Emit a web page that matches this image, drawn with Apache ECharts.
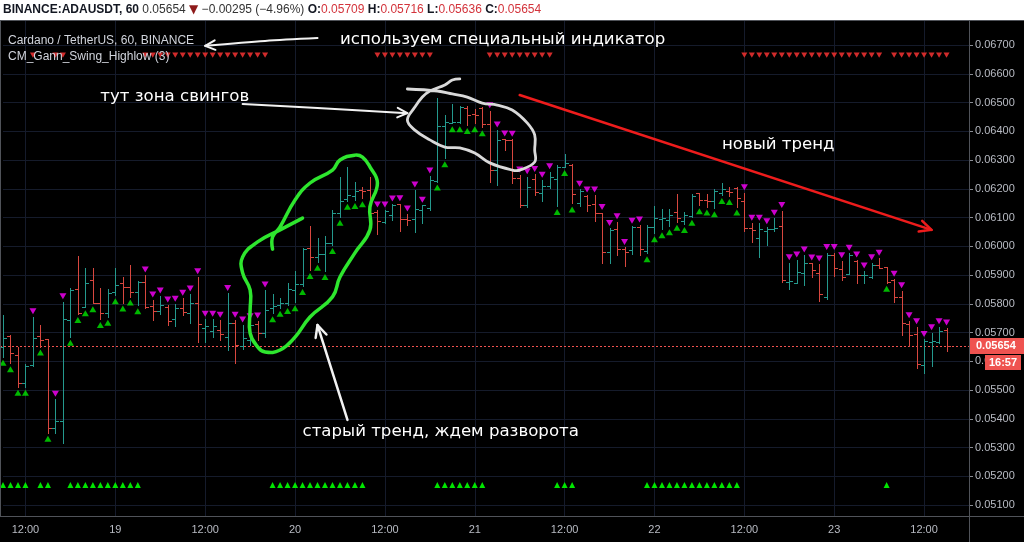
<!DOCTYPE html>
<html><head><meta charset="utf-8">
<script src="https://cdn.jsdelivr.net/npm/echarts@6/dist/echarts.min.js"></script>
<style>html,body{margin:0;padding:0;background:#000;}#c{width:1024px;height:542px;}</style>
</head><body><div id="c"></div>
<script>
// ---------- data ----------
const startDay = 18, startHour = 9, barCount = 130; // hourly bars from 18th 09:00
const categories = [];
for (let k = 0; k < barCount; k++) {
  const h = startHour + k;
  const d = startDay + Math.floor(h / 24);
  const hh = h % 24;
  categories.push(d + ' ' + (hh < 10 ? '0' : '') + hh + ':00');
}
const opens = [0.05651,0.05689,0.05622,0.05523,0.05587,0.05689,0.05676,0.05367,0.05393,0.05743,
0.05850,0.05790,0.05883,0.05802,0.05767,0.05842,0.05871,0.05859,0.05842,0.05877,
0.05792,0.05776,0.05790,0.05746,0.05784,0.05769,0.05804,0.05717,0.05705,0.05709,
0.05685,0.05732,0.05653,0.05674,0.05730,0.05698,0.05784,0.05796,0.05801,0.05848,
0.05870,0.05993,0.05964,0.05972,0.06012,0.06117,0.06163,0.06175,0.06195,0.06195,
0.06120,0.06085,0.06109,0.06147,0.06094,0.06094,0.06126,0.06132,0.06228,0.06418,
0.06429,0.06433,0.06480,0.06460,0.06482,0.06425,0.06265,0.06372,0.06370,0.06237,
0.06143,0.06234,0.06184,0.06210,0.06233,0.06277,0.06283,0.06150,0.06175,0.06147,
0.06115,0.05979,0.06059,0.05989,0.05987,0.06066,0.05983,0.06066,0.06094,0.06091,
0.06120,0.06089,0.06105,0.06184,0.06161,0.06158,0.06184,0.06193,0.06202,0.06158,
0.06062,0.06028,0.06053,0.06059,0.06070,0.05876,0.05873,0.05906,0.05941,0.05906,
0.05822,0.05970,0.05920,0.05904,0.05950,0.05899,0.05892,0.05935,0.05927,0.05883,
0.05825,0.05730,0.05694,0.05587,0.05667,0.05668,0.05709];
const highs = [0.05761,0.05690,0.05649,0.05590,0.05755,0.05726,0.05677,0.05468,0.05807,0.05854,
0.05967,0.05923,0.05923,0.05854,0.05850,0.05923,0.05892,0.05935,0.05880,0.05900,
0.05813,0.05827,0.05796,0.05798,0.05819,0.05834,0.05894,0.05746,0.05746,0.05743,
0.05836,0.05743,0.05726,0.05737,0.05740,0.05848,0.05833,0.05819,0.05871,0.05914,
0.05995,0.06071,0.06030,0.06037,0.06126,0.06240,0.06277,0.06225,0.06205,0.06240,
0.06126,0.06126,0.06147,0.06148,0.06112,0.06196,0.06143,0.06244,0.06515,0.06457,
0.06495,0.06488,0.06488,0.06476,0.06485,0.06471,0.06404,0.06373,0.06372,0.06248,
0.06242,0.06250,0.06230,0.06259,0.06283,0.06321,0.06286,0.06198,0.06178,0.06178,
0.06117,0.06062,0.06085,0.05996,0.06070,0.06074,0.06074,0.06140,0.06129,0.06129,
0.06182,0.06120,0.06181,0.06186,0.06181,0.06198,0.06219,0.06205,0.06205,0.06186,
0.06080,0.06080,0.06068,0.06097,0.06124,0.05943,0.05952,0.05970,0.05942,0.05938,
0.05978,0.05978,0.05950,0.05976,0.05952,0.05914,0.05943,0.05958,0.05928,0.05885,
0.05845,0.05741,0.05720,0.05676,0.05699,0.05720,0.05716];
const lows = [0.05616,0.05593,0.05511,0.05511,0.05585,0.05651,0.05351,0.05351,0.05315,0.05685,
0.05764,0.05788,0.05802,0.05747,0.05755,0.05830,0.05804,0.05825,0.05795,0.05784,
0.05743,0.05764,0.05726,0.05723,0.05761,0.05734,0.05668,0.05668,0.05685,0.05674,
0.05639,0.05593,0.05642,0.05657,0.05674,0.05685,0.05767,0.05786,0.05796,0.05805,
0.05862,0.05917,0.05946,0.05914,0.06004,0.06103,0.06158,0.06161,0.06167,0.06063,
0.06043,0.06080,0.06091,0.06053,0.06074,0.06051,0.06082,0.06126,0.06225,0.06306,
0.06428,0.06428,0.06422,0.06428,0.06414,0.06225,0.06213,0.06335,0.06220,0.06138,
0.06138,0.06178,0.06158,0.06202,0.06140,0.06276,0.06149,0.06140,0.06124,0.06089,
0.05943,0.05943,0.05970,0.05931,0.05973,0.05970,0.05976,0.06045,0.06059,0.06070,
0.06085,0.06077,0.06103,0.06143,0.06138,0.06132,0.06178,0.06175,0.06138,0.06054,
0.06016,0.05964,0.06004,0.06054,0.05877,0.05850,0.05871,0.05865,0.05892,0.05811,
0.05815,0.05897,0.05883,0.05903,0.05871,0.05873,0.05889,0.05923,0.05873,0.05807,
0.05691,0.05653,0.05576,0.05558,0.05583,0.05665,0.05636];
const closes = [0.05682,0.05628,0.05523,0.05583,0.05682,0.05674,0.05367,0.05393,0.05746,0.05848,
0.05767,0.05871,0.05804,0.05767,0.05838,0.05865,0.05859,0.05842,0.05877,0.05790,
0.05776,0.05796,0.05740,0.05784,0.05772,0.05802,0.05729,0.05723,0.05723,0.05694,
0.05734,0.05657,0.05682,0.05726,0.05698,0.05778,0.05792,0.05803,0.05850,0.05868,
0.05990,0.05964,0.05972,0.06012,0.06115,0.06157,0.06178,0.06193,0.06193,0.06115,
0.06089,0.06124,0.06143,0.06094,0.06093,0.06129,0.06143,0.06230,0.06418,0.06432,
0.06431,0.06483,0.06457,0.06458,0.06425,0.06265,0.06370,0.06368,0.06237,0.06143,
0.06205,0.06188,0.06211,0.06242,0.06277,0.06291,0.06182,0.06193,0.06143,0.06115,
0.05979,0.06057,0.05989,0.05981,0.06066,0.05989,0.06067,0.06097,0.06098,0.06109,
0.06097,0.06109,0.06175,0.06161,0.06158,0.06193,0.06198,0.06190,0.06167,0.06062,
0.06057,0.06059,0.06059,0.06062,0.05883,0.05880,0.05911,0.05943,0.05917,0.05833,
0.05970,0.05924,0.05894,0.05970,0.05900,0.05901,0.05935,0.05925,0.05877,0.05825,
0.05732,0.05691,0.05590,0.05670,0.05672,0.05705,0.05654];
// Gann swing signals (bar indices)
const upSignals = [0,1,2,3,5,6,9,10,11,12,13,14,15,16,17,18,
  36,37,38,39,40,41,42,43,44,45,46,47,48,58,59,60,61,62,63,64,74,75,76,
  86,87,88,89,90,91,92,93,94,95,96,97,98,118];
const downSignals = [4,7,8,19,20,21,22,23,24,25,26,27,28,29,30,31,32,33,34,35,
  50,51,52,53,54,55,56,57,65,66,67,68,69,70,71,72,73,77,78,79,80,81,82,83,84,85,
  99,100,101,102,103,104,105,106,107,108,109,110,111,112,113,114,115,116,117,
  119,120,121,122,123,124,125,126];
const topRowMarks = [4,7,8,19,20,21,22,23,24,25,26,27,28,29,30,31,32,33,34,35,
  50,51,52,53,54,55,56,57,65,66,67,68,69,70,71,72,73,
  99,100,101,102,103,104,105,106,107,108,109,110,111,112,113,114,115,116,117,
  119,120,121,122,123,124,125,126];
const bottomRowMarks = upSignals;
const lastPrice = 0.05654;
const countdown = '16:57';
const headerParts = {symbol:'BINANCE:ADAUSDT, 60', last:'0.05654', change:'\u22120.00295 (\u22124.96%)', o:'0.05709', h:'0.05716', l:'0.05636', c:'0.05654'};
// hand-drawn annotations in data coordinates [bar index, price]
const greenLoop = [[40.06,0.06098],[36.59,0.06057],[33.92,0.06015],[32.32,0.05963],[32.05,0.05907],[32.59,0.05848],[32.72,0.05778],[32.99,0.05698],[33.65,0.05650],[35.26,0.05632],[36.99,0.05639],[39.26,0.05684],[41.40,0.05754],[43.67,0.05824],[45.41,0.05893],[47.28,0.05977],[48.61,0.06057],[49.41,0.06137],[49.81,0.06220],[49.41,0.06276],[48.08,0.06310],[46.74,0.06317],[45.41,0.06300],[43.67,0.06265],[41.40,0.06220],[39.26,0.06161],[36.99,0.06067],[36.06,0.06032],[35.79,0.05990]];
const whiteLoop = [[53.95,0.06547],[57.69,0.06540],[60.10,0.06530],[61.97,0.06519],[64.10,0.06498],[66.37,0.06491],[68.11,0.06474],[69.98,0.06429],[71.05,0.06387],[71.31,0.06335],[70.78,0.06293],[69.44,0.06265],[67.71,0.06265],[65.44,0.06290],[63.30,0.06324],[61.30,0.06342],[58.76,0.06345],[56.62,0.06370],[55.02,0.06404],[54.35,0.06439],[54.62,0.06484],[55.69,0.06519],[57.43,0.06540],[58.76,0.06561],[60.10,0.06578],[60.63,0.06582]];
const arrowLegend = [[42.33,0.06724],[34.99,0.06714],[27.24,0.06697]];
const arrowSwing = [[31.92,0.06495],[42.33,0.06481],[53.69,0.06463]];
const arrowOldTrend = [[46.34,0.05396],[42.07,0.05726]];
const arrowNewTrend = [[69.04,0.06526],[123.53,0.06057]];
const notes = [
  {text:'используем специальный индикатор', at:[44.74,0.06717]},
  {text:'тут зона свингов', at:[12.69,0.06519]},
  {text:'новый тренд', at:[95.75,0.06352]},
  {text:'старый тренд, ждем разворота', at:[39.66,0.05354]}
];
// ---------- style ----------
const Y_MIN = 0.0506174, Y_MAX = 0.0678696;
const UP = '#24998d', DOWN = '#d8473f';
const GRIDC = '#151b2b', AXT = '#b8bbc3';
const isMark = v => v.endsWith(' 00:00') || v.endsWith(' 12:00');

const ohlc = opens.map((o, i) => [i, o, highs[i], lows[i], closes[i]]);

function renderBar(params, api) {
  const i = api.value(0);
  const o = api.value(1), h = api.value(2), l = api.value(3), c = api.value(4);
  const ph = api.coord([i, h]), pl = api.coord([i, l]), po = api.coord([i, o]), pc = api.coord([i, c]);
  const x = Math.round(ph[0]) + 0.5;
  const col = c >= o ? UP : DOWN;
  const st = {stroke: col, lineWidth: 1};
  const yo = Math.round(po[1]) + 0.5, yc = Math.round(pc[1]) + 0.5;
  const y1 = Math.round(ph[1]), y2 = Math.round(pl[1]) + 1;
  return {type: 'group', children: [
    {type: 'line', shape: {x1: x, y1: y1, x2: x, y2: y2}, style: st},
    {type: 'line', shape: {x1: x - 3.5, y1: yo, x2: x, y2: yo}, style: st},
    {type: 'line', shape: {x1: x, y1: yc, x2: x + 3.5, y2: yc}, style: st}
  ]};
}

function renderPriceLine(params, api) {
  const cs = params.coordSys;
  const y = Math.round(api.coord([0, api.value(1)])[1]) + 0.5;
  return {type: 'line', shape: {x1: 0, y1: y, x2: cs.x + cs.width, y2: y},
    style: {stroke: '#ef5350', lineWidth: 1, lineDash: [2, 2]}};
}

function arrowHead(tip, from, len, ang) {
  const a = Math.atan2(from[1] - tip[1], from[0] - tip[0]);
  return [[tip[0] + len * Math.cos(a + ang), tip[1] + len * Math.sin(a + ang)], tip,
          [tip[0] + len * Math.cos(a - ang), tip[1] + len * Math.sin(a - ang)]];
}

function renderNotes(params, api) {
  const kids = [];
  const P = pts => pts.map(p => api.coord(p));
  const stroke = (pts, color, w, smooth) => kids.push({type: 'polyline', shape: {points: pts, smooth: smooth || 0},
    style: {stroke: color, lineWidth: w, fill: null, lineCap: 'round', lineJoin: 'round'}});
  const arrow = (path, color, w, hl) => {
    const pts = P(path);
    stroke(pts, color, w, 0.3);
    stroke(arrowHead(pts[pts.length - 1], pts[pts.length - 2], hl, 0.45), color, w, 0);
  };
  stroke(P(greenLoop), '#2ee62e', 3.5, 0.45);
  stroke(P(whiteLoop), '#d9d9d9', 2.8, 0.4);
  arrow(arrowLegend, '#f2f2f2', 2, 11);
  arrow(arrowSwing, '#f2f2f2', 2, 11);
  arrow(arrowOldTrend, '#f2f2f2', 2.5, 13);
  arrow(arrowNewTrend, '#ee1c1c', 2.5, 13);
  notes.forEach(n => {
    const p = api.coord(n.at);
    kids.push({type: 'text', x: p[0], y: p[1], style: {text: n.text, fill: '#ffffff',
      font: '16.6px "DejaVu Sans"', align: 'left', verticalAlign: 'middle'}});
  });
  return {type: 'group', children: kids};
}

function rowMark(top) {
  return function (params, api) {
    const x = api.coord([api.value(0), api.value(1)])[0];
    const cs = params.coordSys;
    if (top) {
      const y = cs.y + 35;
      return {type: 'polygon', shape: {points: [[x - 3, y - 2.4], [x + 3, y - 2.4], [x, y + 2.8]]}, style: {fill: '#d12b2b'}};
    }
    const y = cs.y + cs.height - 31;
    return {type: 'polygon', shape: {points: [[x - 3, y + 3], [x + 3, y + 3], [x, y - 3]]}, style: {fill: '#00e600'}};
  };
}

const chart = echarts.init(document.getElementById('c'), null, {width: 1024, height: 542});
chart.setOption({
  animation: false,
  backgroundColor: '#000000',
  grid: {left: 3, right: 55, top: 20, bottom: 26, containLabel: false},
  xAxis: {
    type: 'category', data: categories, boundaryGap: false,
    axisLine: {show: false}, axisTick: {show: false},
    axisLabel: {interval: (i, v) => isMark(v), formatter: v => v.endsWith(' 00:00') ? v.split(' ')[0] : '12:00',
      color: AXT, fontSize: 11, margin: 8, fontFamily: 'Liberation Sans'},
    splitLine: {show: true, interval: (i, v) => isMark(v), lineStyle: {color: GRIDC, width: 1}}
  },
  yAxis: {
    type: 'value', position: 'right', min: Y_MIN, max: Y_MAX, splitNumber: 17,
    axisLine: {show: false},
    axisTick: {show: true, length: 4, lineStyle: {color: '#8a8d94'}},
    axisLabel: {color: AXT, fontSize: 11, margin: 6, fontFamily: 'Liberation Sans',
      formatter: v => v.toFixed(5), showMinLabel: false, showMaxLabel: false},
    splitLine: {show: true, lineStyle: {color: GRIDC, width: 1}}
  },
  series: [
    {type: 'custom', name: 'priceLine', data: [[0, lastPrice]], renderItem: renderPriceLine, encode: {x: 0, y: 1}, clip: false, silent: true, z: 1},
    {type: 'custom', name: 'ohlc', data: ohlc, renderItem: renderBar, encode: {x: 0, y: [1, 2, 3, 4]}, clip: false, silent: true, z: 2},
    {type: 'scatter', name: 'up', data: upSignals.map(i => [i, lows[i]]), symbol: 'triangle', symbolSize: [7, 6],
      symbolOffset: [0, 6], itemStyle: {color: '#00e600'}, silent: true, z: 3},
    {type: 'scatter', name: 'down', data: downSignals.map(i => [i, highs[i]]), symbol: 'path://M0,0L10,0L5,9Z', symbolSize: [7, 6],
      symbolOffset: [0, -5.5], itemStyle: {color: '#ff00ff'}, silent: true, z: 3},
    {type: 'custom', name: 'topRow', data: topRowMarks.map(i => [i, highs[i]]), renderItem: rowMark(true), encode: {x: 0, y: 1}, clip: false, silent: true, z: 3},
    {type: 'custom', name: 'bottomRow', data: bottomRowMarks.map(i => [i, lows[i]]), renderItem: rowMark(false), encode: {x: 0, y: 1}, clip: false, silent: true, z: 3},
    {type: 'custom', name: 'notes', data: [[0, lastPrice]], renderItem: renderNotes, encode: {x: 0, y: 1}, clip: false, silent: true, z: 5}
  ]
});

const py = chart.convertToPixel({yAxisIndex: 0}, lastPrice);
const hp = headerParts;
chart.setOption({graphic: [
  {type: 'rect', shape: {x: 0, y: 0, width: 1024, height: 20}, style: {fill: '#ffffff'}, z: 100},
  {type: 'text', x: 3, y: 10, z: 101, style: {
    text: '{b|' + hp.symbol + '} {g|' + hp.last + '} {d|\u25BC} {g|' + hp.change + '} {b|O:}{r|' + hp.o + '} {b|H:}{r|' + hp.h + '} {b|L:}{r|' + hp.l + '} {b|C:}{r|' + hp.c + '}',
    verticalAlign: 'middle',
    rich: {
      b: {fill: '#131722', font: 'bold 12px "Liberation Sans"'},
      g: {fill: '#333333', font: '12px "Liberation Sans"'},
      d: {fill: '#8e1b1b', font: '12px "DejaVu Sans"'},
      r: {fill: '#d3333b', font: '12px "Liberation Sans"'}
    }}},
  {type: 'line', shape: {x1: 0, y1: 20.5, x2: 1024, y2: 20.5}, style: {stroke: '#505359'}, z: 100},
  {type: 'line', shape: {x1: 0.5, y1: 20, x2: 0.5, y2: 516}, style: {stroke: '#505359'}, z: 100},
  {type: 'line', shape: {x1: 0, y1: 516.5, x2: 1024, y2: 516.5}, style: {stroke: '#505359'}, z: 100},
  {type: 'line', shape: {x1: 969.5, y1: 20, x2: 969.5, y2: 542}, style: {stroke: '#505359'}, z: 100},
  {type: 'text', x: 8, y: 41, z: 101, style: {text: 'Cardano / TetherUS, 60, BINANCE', fill: '#d1d4dc', font: '12px "Liberation Sans"', verticalAlign: 'middle'}},
  {type: 'text', x: 8, y: 57, z: 101, style: {text: 'CM_Gann_Swing_Highlow (3)', fill: '#d1d4dc', font: '12px "Liberation Sans"', verticalAlign: 'middle'}},
  {type: 'rect', shape: {x: 970, y: Math.round(py) - 8, width: 54, height: 16}, style: {fill: '#ef5350'}, z: 102},
  {type: 'text', x: 976, y: Math.round(py), z: 103, style: {text: lastPrice.toFixed(5), fill: '#ffffff', font: 'bold 11px "Liberation Sans"', verticalAlign: 'middle'}},
  {type: 'rect', shape: {x: 985, y: Math.round(py) + 9, width: 36, height: 15}, style: {fill: '#ef5350'}, z: 102},
  {type: 'text', x: 1003, y: Math.round(py) + 16.5, z: 103, style: {text: countdown, fill: '#ffffff', font: 'bold 11px "Liberation Sans"', align: 'center', verticalAlign: 'middle'}}
]});
</script>
</body></html>
